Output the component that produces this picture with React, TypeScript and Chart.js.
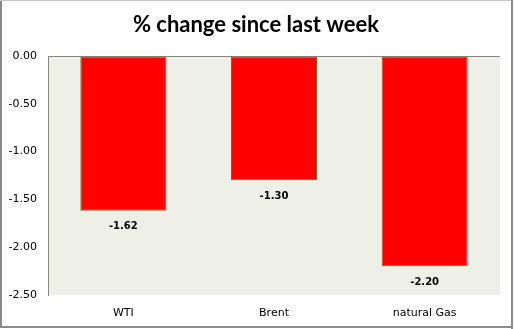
import React, { useEffect, useRef } from "react";
import { Chart, registerables } from "chart.js";

Chart.register(...registerables);

const title = "% change since last week";
const categories = ["WTI", "Brent", "natural Gas"];
const values = [-1.62, -1.3, -2.2];
const yMin = -2.5;
const yMax = 0;
const yStep = 0.5;

const chromePlugin = {
  id: "chrome",
  beforeDraw(chart: any) {
    const { ctx, chartArea, width, height } = chart;
    ctx.save();
    ctx.fillStyle = "#ffffff";
    ctx.fillRect(0, 0, width, height);
    ctx.fillStyle = "#EEF0E8";
    ctx.fillRect(chartArea.left, chartArea.top, chartArea.right - chartArea.left, chartArea.bottom - chartArea.top);
    // outer frame
    ctx.fillStyle = "#8a8a8a";
    ctx.fillRect(0, 0, 2, 328);
    ctx.fillStyle = "#c8c8c8";
    ctx.fillRect(0, 0, 512, 1);
    ctx.fillStyle = "#8a8a8a";
    ctx.fillRect(511, 0, 2, 329);
    ctx.fillRect(0, 326, 513, 2);
    // title
    ctx.fillStyle = "#000000";
    ctx.font = "bold 22px Lato";
    ctx.textAlign = "center";
    ctx.textBaseline = "alphabetic";
    ctx.fillText(title, 256, 32);
    ctx.restore();
  },
  afterDatasetsDraw(chart: any) {
    const { ctx } = chart;
    const meta = chart.getDatasetMeta(0);
    ctx.save();
    ctx.fillStyle = "#000000";
    ctx.font = "bold 10px 'DejaVu Sans'";
    ctx.textAlign = "center";
    ctx.textBaseline = "middle";
    meta.data.forEach((bar: any, i: number) => {
      ctx.fillText(values[i].toFixed(2), bar.x, bar.y + 16);
    });
    ctx.restore();
  },
};

export default function App() {
  const ref = useRef<HTMLCanvasElement>(null);
  useEffect(() => {
    const chart = new Chart(ref.current as HTMLCanvasElement, {
      type: "bar",
      data: {
        labels: categories,
        datasets: [
          {
            data: values,
            backgroundColor: "#FF0000",
            borderColor: "#8C5A2A",
            borderWidth: 1,
            borderSkipped: false,
            barPercentage: 0.571,
            categoryPercentage: 1,
          },
        ],
      },
      options: {
        animation: false,
        responsive: false,
        devicePixelRatio: 1,
        layout: { padding: { top: 56, right: 14, left: 0, bottom: 0 } },
        plugins: { legend: { display: false }, tooltip: { enabled: false }, title: { display: false } },
        scales: {
          x: {
            grid: { display: false, drawTicks: false },
            border: { display: false },
            ticks: { color: "#000000", font: { family: "DejaVu Sans", size: 11 }, padding: 12, maxRotation: 0 },
            afterFit(scale: any) {
              scale.height = 34;
            },
          },
          y: {
            min: yMin,
            max: yMax,
            grid: {
              drawTicks: false,
              color: (c: any) => (c.tick && c.tick.value === 0 ? "#868686" : "rgba(0,0,0,0)"),
              lineWidth: 1,
            },
            border: { display: true, color: "#868686", width: 1 },
            ticks: {
              stepSize: yStep,
              color: "#000000",
              font: { family: "DejaVu Sans", size: 11 },
              padding: 11,
              callback: (v: any) => Number(v).toFixed(2),
            },
            afterFit(scale: any) {
              scale.width = 48;
            },
          },
        },
      },
      plugins: [chromePlugin],
    });
    return () => chart.destroy();
  }, []);
  return (
    <div style={{ position: "absolute", left: 0, top: 0, width: 514, height: 329 }}>
      <canvas ref={ref} width={514} height={329} style={{ display: "block" }} />
    </div>
  );
}
